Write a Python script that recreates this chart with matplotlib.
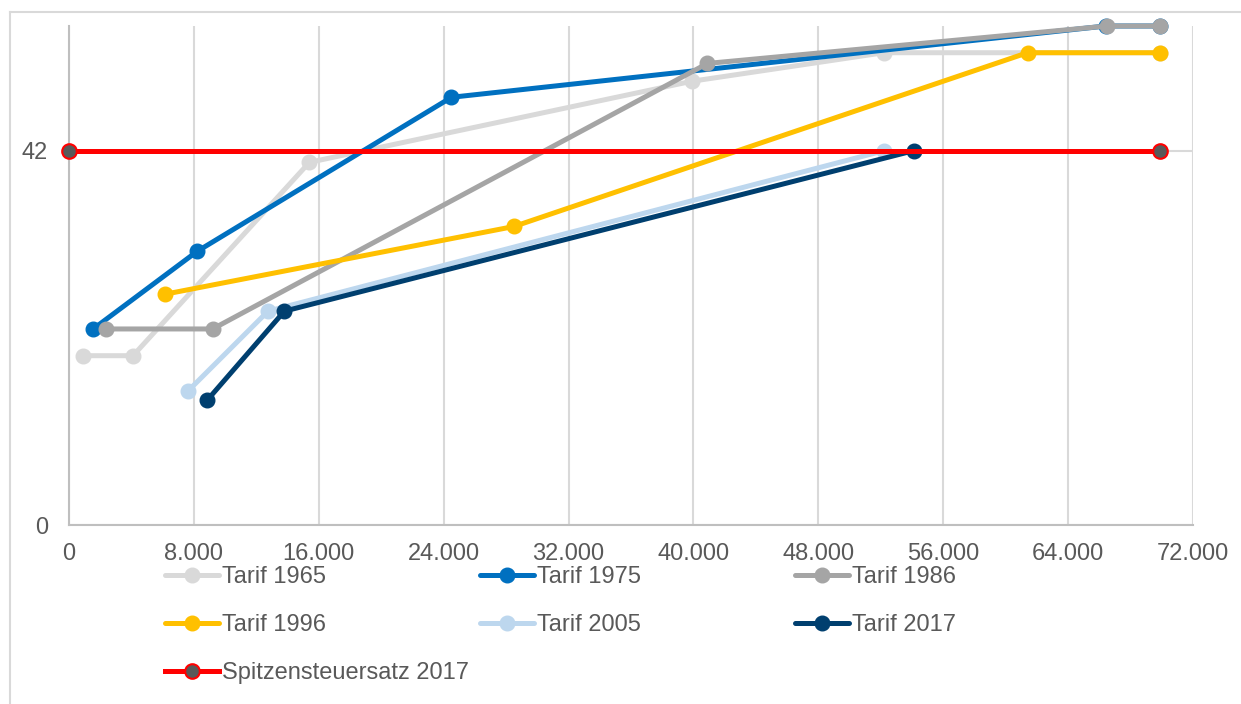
import matplotlib
matplotlib.use("Agg")
import matplotlib.pyplot as plt
from matplotlib.lines import Line2D
from matplotlib.ticker import FuncFormatter

plt.rcParams['font.family'] = ['Liberation Sans', 'DejaVu Sans']

# Daten (Einkommen in Euro, Steuersatz in %)
x_1965 = [900, 4100, 15400, 39900, 52200, 69900]
y_1965 = [19, 19, 40.7, 49.8, 53, 53]
x_1975 = [1550, 8200, 24500, 66400, 69900]
y_1975 = [22, 30.7, 48, 56, 56]
x_1986 = [2350, 9200, 40900, 66500, 69900]
y_1986 = [22, 22, 51.8, 56, 56]
x_1996 = [6150, 28500, 61400, 69900]
y_1996 = [25.9, 33.5, 53, 53]
x_2005 = [7600, 12750, 52200]
y_2005 = [15, 24, 42]
x_2017 = [8850, 13800, 54100]
y_2017 = [14, 24, 42]
x_spitze = [0, 69900]
y_spitze = [42, 42]

labels = ['Tarif 1965', 'Tarif 1975', 'Tarif 1986', 'Tarif 1996',
          'Tarif 2005', 'Tarif 2017', 'Spitzensteuersatz 2017']
colors = ['#d9d9d9', '#0070c0', '#a5a5a5', '#ffc000',
          '#bdd7ee', '#003f6f', '#ff0000']

fig = plt.figure(figsize=(12.41, 7.04), dpi=100)
ax = fig.add_axes([69 / 1241, 1 - 525 / 704, (1193 - 69) / 1241, (525 - 26) / 704])

series = [(x_1965, y_1965), (x_1975, y_1975), (x_1986, y_1986), (x_1996, y_1996),
          (x_2005, y_2005), (x_2017, y_2017)]
handles = []
for (xs, ys), lab, c in zip(series, labels, colors):
    h, = ax.plot(xs, ys, color=c, lw=3.6, marker='o', ms=10.5, mec=c, mfc=c,
                 label=lab, zorder=3, solid_capstyle='round', clip_on=False)
    handles.append(h)
h, = ax.plot(x_spitze, y_spitze, color=colors[6], lw=3.6, marker='o', ms=10.5,
             mfc='#595959', mec='#ff0000', mew=1.5, label=labels[6], zorder=4,
             clip_on=False)
handles.append(h)

ax.set_xlim(0, 72000)
ax.set_ylim(0, 56)
ax.set_xticks(range(0, 72001, 8000))
ax.set_yticks([0, 42])
ax.xaxis.set_major_formatter(FuncFormatter(lambda v, p: f'{int(v):,}'.replace(',', '.')))
ax.tick_params(length=0, labelsize=17, colors='#595959')
ax.tick_params(axis='y', pad=15)
ax.tick_params(axis='x', pad=13)
ax.grid(True, color='#d9d9d9', lw=1.5, zorder=0)
ax.set_axisbelow(True)
for s in ['top', 'right']:
    ax.spines[s].set_visible(False)
for s in ['left', 'bottom']:
    ax.spines[s].set_color('#bfbfbf')
    ax.spines[s].set_linewidth(1.5)

# Legende in drei Spalten
cols = [[0, 3, 6], [1, 4], [2, 5]]
xpos = [165, 480, 795]
for idx, xp in zip(cols, xpos):
    fig.legend([handles[i] for i in idx], [labels[i] for i in idx],
               loc='upper left', bbox_to_anchor=(xp / 1241, 1 - 566 / 704),
               frameon=False, fontsize=17, handlelength=2.3, handletextpad=0.1,
               labelspacing=1.1, borderpad=0, borderaxespad=0,
               labelcolor='#595959')

# Rahmen des Diagramms
fig.add_artist(Line2D([10 / 1241, 10 / 1241], [0, 1 - 12 / 704], color='#d9d9d9', lw=1.5))
fig.add_artist(Line2D([10 / 1241, 1], [1 - 12 / 704, 1 - 12 / 704], color='#d9d9d9', lw=1.5))

fig.savefig('out.png', dpi=100)
